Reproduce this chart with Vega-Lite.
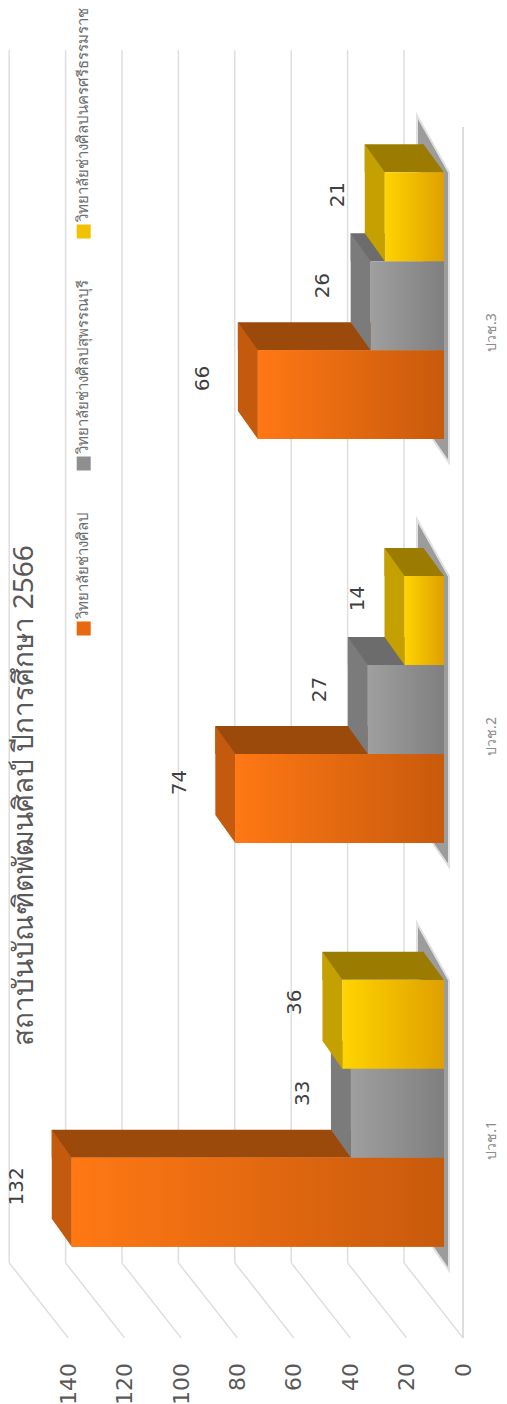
{
"$schema":"https://vega.github.io/schema/vega-lite/v6.json",
"autosize":"none",
"width":394.8,
"height":1212,
"padding":{"left":49.2,"top":103.5,"right":63,"bottom":88.5},
"background":"white",
"title":{"text":"สถาบันบัณฑิตพัฒนศิลป์ ปีการศึกษา 2566","orient":"left","anchor":"middle","offset":-32,"dx":-86,"fontSize":28,"fontWeight":"normal","color":"#595959","font":"Noto Sans"},
"datasets":{
"bars":[
{"level":"ปวช.1","college":"วิทยาลัยช่างศิลป","value":132},
{"level":"ปวช.1","college":"วิทยาลัยช่างศิลปสุพรรณบุรี","value":33},
{"level":"ปวช.1","college":"วิทยาลัยช่างศิลปนครศรีธรรมราช","value":36},
{"level":"ปวช.2","college":"วิทยาลัยช่างศิลป","value":74},
{"level":"ปวช.2","college":"วิทยาลัยช่างศิลปสุพรรณบุรี","value":27},
{"level":"ปวช.2","college":"วิทยาลัยช่างศิลปนครศรีธรรมราช","value":14},
{"level":"ปวช.3","college":"วิทยาลัยช่างศิลป","value":66},
{"level":"ปวช.3","college":"วิทยาลัยช่างศิลปสุพรรณบุรี","value":26},
{"level":"ปวช.3","college":"วิทยาลัยช่างศิลปนครศรีธรรมราช","value":21}
],
"ticks":[{"tick":0},{"tick":20},{"tick":40},{"tick":60},{"tick":80},{"tick":100},{"tick":120},{"tick":140}]
},
"data":{"name":"bars"},
"encoding":{
"x":{"field":"value","type":"quantitative","stack":null,"scale":{"domain":[0,140],"reverse":true,"nice":false},
"axis":{"values":[0,20,40,60,80,100,120,140],"labelAngle":-90,"labelAlign":"right","labelBaseline":"middle","grid":false,"domain":false,"ticks":false,"labelOffset":19,"labelPadding":47,"labelFontSize":22,"labelColor":"#595959","labelFont":"DejaVu Sans","title":null}},
"y":{"field":"level","type":"nominal","scale":{"domain":["ปวช.3","ปวช.2","ปวช.1"],"paddingInner":0.339,"paddingOuter":0.17},
"axis":{"orient":"right","labelAngle":-90,"labelAlign":"center","labelBaseline":"middle","labelOffset":27,"labelPadding":47,"domain":false,"ticks":false,"grid":false,"labelFontSize":14,"labelColor":"#8c8c8c","labelFont":"Noto Sans","title":null}}
},
"layer":[
{"data":{"name":"ticks"},"mark":{"type":"rule","color":"#dedede","strokeWidth":1.5,"xOffset":-40,"x2Offset":-40,"yOffset":-255.5,"y2Offset":149.5},
 "encoding":{"x":{"field":"tick","type":"quantitative"},"y":{"datum":"ปวช.3"},"y2":{"datum":"ปวช.1"}}},
{"data":{"name":"ticks"},"mark":{"type":"rule","color":"#dedede","strokeWidth":1.5,"xOffset":19,"x2Offset":-40,"yOffset":224.5,"y2Offset":149.5},
 "encoding":{"x":{"field":"tick","type":"quantitative"},"x2":{"field":"tick"},"y":{"datum":"ปวช.1"},"y2":{"datum":"ปวช.1"}}},
{"mark":{"type":"rule","color":"#dedede","strokeWidth":1.5,"xOffset":19,"yOffset":-178.5,"y2Offset":224.5},
 "encoding":{"x":{"datum":0},"y":{"datum":"ปวช.3"},"y2":{"datum":"ปวช.1"}}},
{"transform":[{"filter":"datum.college==='วิทยาลัยช่างศิลปสุพรรณบุรี'"}],"mark":{"type":"point","filled":true,"size":4,"opacity":1,"shape":"M-27,-190 L5,-133 L5,157 L-11,134 L-27,-161Z","fill":"#9c9c9c","stroke":"#e0e0e0","strokeWidth":2},
 "encoding":{"x":{"datum":0}}},

{"transform":[{"filter":"datum.college==='วิทยาลัยช่างศิลป'"}],"mark":{"type":"rule","stroke":"#9c4a0c","strokeWidth":28,"xOffset":-20,"x2Offset":-20,"yOffset":30.5},"encoding":{"x2":{"datum":0}}},
{"transform":[{"filter":"datum.college==='วิทยาลัยช่างศิลป'"}],"mark":{"type":"point","filled":true,"opacity":1,"size":4,"fill":"#9c4a0c","shape":"M-20.5,-72.5 L0,-44.5 L-20.5,-44.5Z"},"encoding":{"x":{"datum":0},"yOffset":{"field":"college","type":"nominal","scale":{"domain":["วิทยาลัยช่างศิลปนครศรีธรรมราช","วิทยาลัยช่างศิลปสุพรรณบุรี","วิทยาลัยช่างศิลป"],"paddingInner":0,"paddingOuter":0}}}},
{"transform":[{"filter":"datum.college==='วิทยาลัยช่างศิลป'"}],"mark":{"type":"point","filled":true,"opacity":1,"size":4,"fill":"#c45a0e","shape":"M0,-44.5 L-20,-72.5 L-20,16.5 L0,44.5Z"},"encoding":{"yOffset":{"field":"college","type":"nominal"}}},
{"transform":[{"filter":"datum.college==='วิทยาลัยช่างศิลป'"}],"mark":{"type":"bar"},"encoding":{"yOffset":{"field":"college","type":"nominal"},"color":{"field":"college","type":"nominal","scale":{"domain":["วิทยาลัยช่างศิลป","วิทยาลัยช่างศิลปสุพรรณบุรี","วิทยาลัยช่างศิลปนครศรีธรรมราช"],"range":["#e8690f","#8f8f8f","#f2c200"]},
 "legend":{"orient":"none","legendX":27,"legendY":120.5,"direction":"vertical","title":null,"values":["วิทยาลัยช่างศิลปนครศรีธรรมราช","วิทยาลัยช่างศิลปสุพรรณบุรี","วิทยาลัยช่างศิลป"],"labelLimit":0,"labelOffset":-8,"rowPadding":40,"symbolType":"square","symbolSize":196,"symbolStrokeWidth":0,"labelFontSize":15,"labelColor":"#6e6e6e","labelFont":"Noto Sans","padding":0,"encode":{"labels":{"update":{"angle":{"value":-90},"align":{"value":"left"},"baseline":{"value":"middle"},"dx":{"value":10}}}}}}}},
{"transform":[{"filter":"datum.college==='วิทยาลัยช่างศิลป'"}],"mark":{"type":"bar","fill":{"gradient":"linear","x1":0,"y1":0,"x2":1,"y2":0,"stops":[{"offset":0,"color":"#ff7814"},{"offset":1,"color":"#c85a0c"}]}},"encoding":{"yOffset":{"field":"college","type":"nominal"}}},

{"transform":[{"filter":"datum.college==='วิทยาลัยช่างศิลปสุพรรณบุรี'"}],"mark":{"type":"rule","stroke":"#6c6c6c","strokeWidth":28,"xOffset":-20,"x2Offset":-20,"yOffset":-58.5},"encoding":{"x2":{"datum":0}}},
{"transform":[{"filter":"datum.college==='วิทยาลัยช่างศิลปสุพรรณบุรี'"}],"mark":{"type":"point","filled":true,"opacity":1,"size":4,"fill":"#6c6c6c","shape":"M-20.5,-72.5 L0,-44.5 L-20.5,-44.5Z"},"encoding":{"x":{"datum":0},"yOffset":{"field":"college","type":"nominal"}}},
{"transform":[{"filter":"datum.college==='วิทยาลัยช่างศิลปสุพรรณบุรี'"}],"mark":{"type":"point","filled":true,"opacity":1,"size":4,"fill":"#7b7b7b","shape":"M0,-44.5 L-20,-72.5 L-20,16.5 L0,44.5Z"},"encoding":{"yOffset":{"field":"college","type":"nominal"}}},
{"transform":[{"filter":"datum.college==='วิทยาลัยช่างศิลปสุพรรณบุรี'"}],"mark":{"type":"bar","fill":{"gradient":"linear","x1":0,"y1":0,"x2":1,"y2":0,"stops":[{"offset":0,"color":"#9f9f9f"},{"offset":1,"color":"#7f7f7f"}]}},"encoding":{"yOffset":{"field":"college","type":"nominal"}}},

{"transform":[{"filter":"datum.college==='วิทยาลัยช่างศิลปนครศรีธรรมราช'"}],"mark":{"type":"rule","stroke":"#9c7c00","strokeWidth":28,"xOffset":-20,"x2Offset":-20,"yOffset":-147.5},"encoding":{"x2":{"datum":0}}},
{"transform":[{"filter":"datum.college==='วิทยาลัยช่างศิลปนครศรีธรรมราช'"}],"mark":{"type":"point","filled":true,"opacity":1,"size":4,"fill":"#9c7c00","shape":"M-20.5,-72.5 L0,-44.5 L-20.5,-44.5Z"},"encoding":{"x":{"datum":0},"yOffset":{"field":"college","type":"nominal"}}},
{"transform":[{"filter":"datum.college==='วิทยาลัยช่างศิลปนครศรีธรรมราช'"}],"mark":{"type":"point","filled":true,"opacity":1,"size":4,"fill":"#c4a000","shape":"M0,-44.5 L-20,-72.5 L-20,16.5 L0,44.5Z"},"encoding":{"yOffset":{"field":"college","type":"nominal"}}},
{"transform":[{"filter":"datum.college==='วิทยาลัยช่างศิลปนครศรีธรรมราช'"}],"mark":{"type":"bar","fill":{"gradient":"linear","x1":0,"y1":0,"x2":1,"y2":0,"stops":[{"offset":0,"color":"#ffd400"},{"offset":1,"color":"#dfa000"}]}},"encoding":{"yOffset":{"field":"college","type":"nominal"}}},

{"transform":[{"filter":"datum.college==='วิทยาลัยช่างศิลป'"}],"mark":{"type":"text","angle":-90,"align":"center","baseline":"middle","fontSize":20,"font":"DejaVu Sans","color":"#404040","xOffset":-55,"dx":16},"encoding":{"yOffset":{"field":"college","type":"nominal"},"text":{"field":"value","type":"quantitative"}}},
{"transform":[{"filter":"datum.college==='วิทยาลัยช่างศิลปสุพรรณบุรี'"}],"mark":{"type":"text","angle":-90,"align":"center","baseline":"middle","fontSize":20,"font":"DejaVu Sans","color":"#404040","xOffset":-48,"dx":20},"encoding":{"yOffset":{"field":"college","type":"nominal"},"text":{"field":"value","type":"quantitative"}}},
{"transform":[{"filter":"datum.college==='วิทยาลัยช่างศิลปนครศรีธรรมราช'"}],"mark":{"type":"text","angle":-90,"align":"center","baseline":"middle","fontSize":20,"font":"DejaVu Sans","color":"#404040","xOffset":-47,"dx":22},"encoding":{"yOffset":{"field":"college","type":"nominal"},"text":{"field":"value","type":"quantitative"}}}
],
"config":{"view":{"stroke":null},"style":{"cell":{"stroke":null}}}
}
